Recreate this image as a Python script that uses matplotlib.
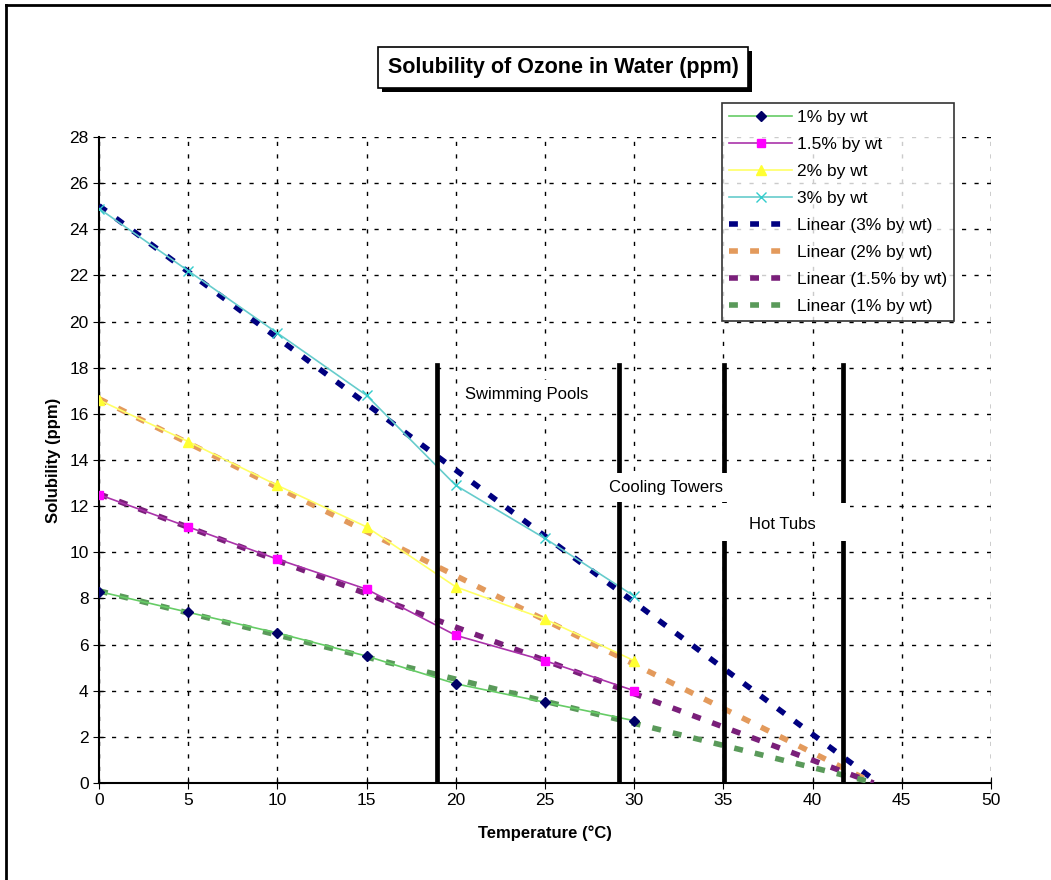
import numpy as np
import matplotlib.pyplot as plt
from matplotlib.lines import Line2D
from matplotlib.patches import Rectangle

# Data
temps = [0, 5, 10, 15, 20, 25, 30]
wt1 = [8.3, 7.4, 6.5, 5.5, 4.3, 3.5, 2.7]
wt15 = [12.5, 11.1, 9.7, 8.4, 6.4, 5.3, 4.0]
wt2 = [16.6, 14.8, 12.9, 11.1, 8.5, 7.1, 5.3]
wt3 = [24.9, 22.2, 19.5, 16.8, 12.9, 10.6, 8.1]

zone_x = [18.95, 29.15, 35.03, 41.7]
zone_labels = ["Swimming Pools", "Cooling Towers", "Hot Tubs"]
zone_label_pos = [(24.0, 16.85), (31.8, 12.8), (38.3, 11.2)]

plt.rcParams['font.family'] = ['Liberation Sans', 'DejaVu Sans']

fig = plt.figure(figsize=(10.51, 8.8), dpi=100)
ax = fig.add_axes([99/1051, 97/880, 892/1051, 646/880])

series = [
    ("1% by wt", wt1, "#66cc66", "D", "#000066", 5),
    ("1.5% by wt", wt15, "#aa33aa", "s", "#ff00ff", 6),
    ("2% by wt", wt2, "#ffff66", "^", "#ffff33", 7),
    ("3% by wt", wt3, "#66cccc", "x", "#33cccc", 7),
]
for name, vals, lc, mk, mc, ms in series:
    ax.plot(temps, vals, color=lc, lw=1.2, marker=mk, markersize=ms,
            markerfacecolor=mc, markeredgecolor=mc, label=name, zorder=4)

# linear trendlines, extended forward to zero
trend = [
    ("Linear (3% by wt)", wt3, "#000080"),
    ("Linear (2% by wt)", wt2, "#e39a5c"),
    ("Linear (1.5% by wt)", wt15, "#7a1f7a"),
    ("Linear (1% by wt)", wt1, "#5a9a5a"),
]
for name, vals, c in trend:
    a, b = np.polyfit(temps, vals, 1)
    xs = np.array([0, -b / a])
    ax.plot(xs, a * xs + b, color=c, lw=4, ls=(0, (1.6, 2.2)),
            label=name, zorder=3)

for x in zone_x:
    ax.plot([x, x], [0, 18.1], color="black", lw=3.4, zorder=5)
for lab, (x, y) in zip(zone_labels, zone_label_pos):
    ax.text(x, y, lab, ha="center", va="center", fontsize=12, zorder=7,
            bbox=dict(facecolor="white", edgecolor="none", pad=5))
# white area behind "Hot Tubs" that also cuts the lines at 35 and 41.7
ax.add_patch(Rectangle((34.6, 10.5), 7.5, 1.65, facecolor="white",
                       edgecolor="none", zorder=6))

ax.set_xlim(0, 50)
ax.set_ylim(0, 28)
ax.set_xticks(range(0, 51, 5))
ax.set_yticks(range(0, 29, 2))
ax.tick_params(direction="inout", length=8, labelsize=12.5)
ax.grid(True, color="black", ls=(0, (3, 6)), lw=1)
for s in ["top", "right"]:
    ax.spines[s].set_visible(False)
for s in ["left", "bottom"]:
    ax.spines[s].set_linewidth(1.5)
ax.set_xlabel("Temperature (°C)", fontsize=12, fontweight="bold", labelpad=12)
ax.set_ylabel("Solubility (ppm)", fontsize=12, fontweight="bold", labelpad=6)

leg = ax.legend(loc="upper left", bbox_to_anchor=((722 - 99) / 892, (783 - 103) / 646),
                fontsize=12.5, frameon=True, fancybox=False, edgecolor="black",
                handlelength=3.6, borderpad=0.42, labelspacing=0.68, handletextpad=0.3,
                borderaxespad=0)
leg.get_frame().set_linewidth(1.2)
leg.set_zorder(10)

# title box with shadow
fig.patches.append(Rectangle((382/1051, 1 - 92/880), 370/1051, 41/880,
                             transform=fig.transFigure, facecolor="black", zorder=1))
fig.patches.append(Rectangle((378/1051, 1 - 88/880), 370/1051, 41/880,
                             transform=fig.transFigure, facecolor="white",
                             edgecolor="black", lw=1.2, zorder=2))
fig.text(563/1051, 1 - 68/880, "Solubility of Ozone in Water (ppm)", ha="center",
         va="center", fontsize=15.5, fontweight="bold", zorder=3)

# outer border (left and top)
fig.lines.append(Line2D([6/1051, 6/1051], [0, 1 - 5/880], transform=fig.transFigure,
                        color="black", lw=2))
fig.lines.append(Line2D([6/1051, 1], [1 - 5/880, 1 - 5/880], transform=fig.transFigure,
                        color="black", lw=2))

fig.savefig("out.png", dpi=100)
